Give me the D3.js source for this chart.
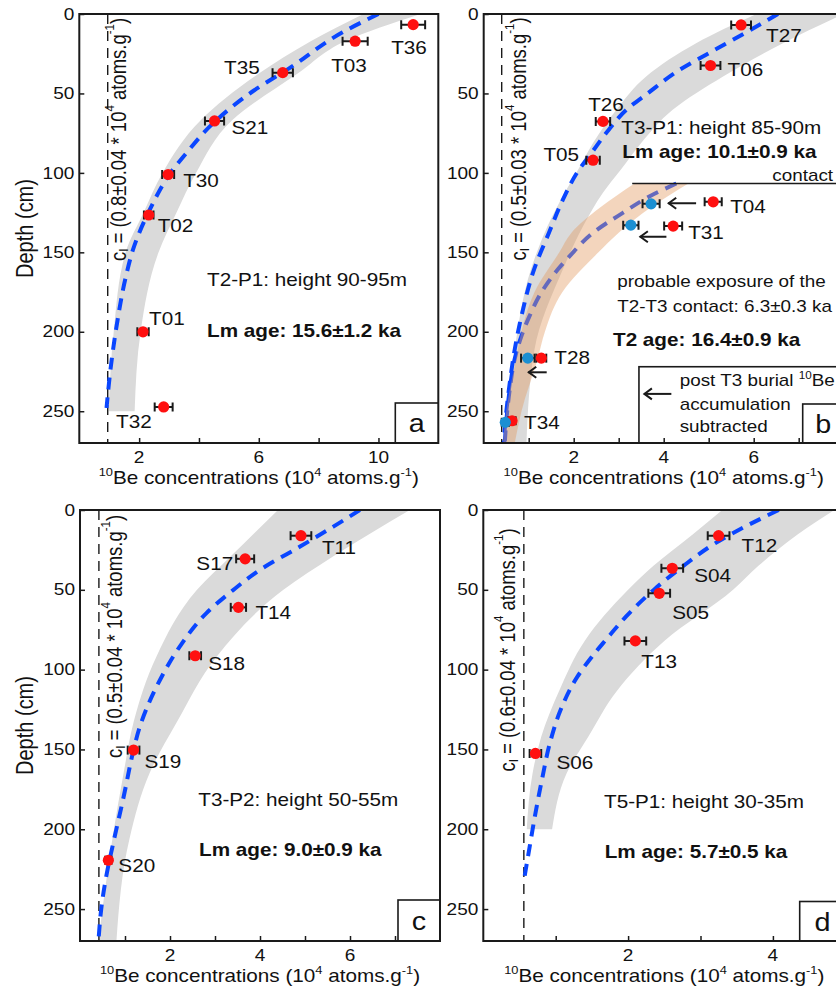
<!DOCTYPE html>
<html><head><meta charset="utf-8">
<script src="https://cdn.jsdelivr.net/npm/d3@7"></script>
<style>
body{margin:0;background:#fff}
svg{display:block}
text{font-family:"Liberation Sans",Arial,Helvetica,sans-serif;fill:#111}
</style>
</head><body>
<svg id="chart" width="836" height="991"></svg>
<script>
// ================= DATA =================
const depthTicks = [0, 50, 100, 150, 200, 250];
const depthMax = 270;
const xMaxima = [12, 8, 8, 5];
const xTickValues = [[2,4,6,8,10],[1,2,3,4,5,6,7],[1,2,3,4,5,6,7],[1,2,3,4]];
const xTickLabels = [[2,6,10],[2,4,6],[2,4,6],[2,4]];
const ciValues = [0.95, 0.4, 0.42, 0.56];
const ciLabels = ["0.8±0.04", "0.5±0.03", "0.5±0.04", "0.6±0.04"];
const panelLetters = ["a", "b", "c", "d"];

// panel a (T2-P1)
const aSamples = ["T36","T03","T35","S21","T30","T02","T01","T32"];
const aDepth   = [6.7, 17.1, 36.9, 67.3, 101, 126.5, 200, 247.3];
const aConc    = [11.16, 9.22, 6.8, 4.52, 2.97, 2.32, 2.13, 2.82];
const aErr     = [0.4, 0.42, 0.34, 0.32, 0.2, 0.16, 0.19, 0.3];
const aFitDepth = [0, 11.5, 34.4, 48, 68.8, 87.5, 100, 123, 148, 165, 196, 221, 248];
const aFitConc  = [10.0, 8.8, 7.0, 5.85, 4.47, 3.58, 3.05, 2.36, 1.8, 1.56, 1.25, 1.06, 0.91];
const aBandDepth = [0, 17, 37.5, 67, 100, 125, 150, 200, 250];
const aBandLow   = [9.5, 7.75, 6.0, 4.05, 2.78, 2.15, 1.55, 1.15, 0.98];
const aBandHigh  = [11.4, 8.9, 7.3, 5.1, 3.9, 3.25, 2.65, 2.05, 1.85];

// panel b (T3-P1)
const bSamples = ["T27","T06","T26","T05","T04","T31","T28","T34"];
const bDepth   = [6.9, 32.4, 67.6, 92, 118.2, 133.5, 216.6, 256];
const bConc    = [5.72, 5.04, 2.65, 2.43, 5.1, 4.21, 1.28, 0.63];
const bErr     = [0.22, 0.22, 0.16, 0.15, 0.19, 0.2, 0.11, 0.08];
const bCorrSamples = ["T04","T31","T28","T34"];
const bCorrDepth   = [119.5, 132.9, 216.6, 257];
const bCorrConc    = [3.72, 3.27, 0.98, 0.48];
const bCorrErr     = [0.19, 0.17, 0.15, 0.08];
const bFitDepth = [0, 12.1, 24.7, 35.2, 49.8, 60.3, 72.8, 89.6, 97.9, 116.8, 137.7, 160.7, 190, 211, 232, 257, 270];
const bFitConc  = [6.54, 5.8, 5.0, 4.35, 3.65, 3.17, 2.78, 2.34, 2.12, 1.76, 1.45, 1.12, 0.84, 0.69, 0.58, 0.48, 0.45];
const bBandDepth = [0, 18.4, 39.3, 60.3, 81.2, 97.9, 112.5, 133.5, 160.7, 211, 270];
const bBandLow   = [6.06, 4.72, 3.61, 2.95, 2.43, 2.1, 1.8, 1.42, 1.05, 0.69, 0.5];
const bBandHigh  = [8.0, 6.65, 5.32, 4.2, 3.5, 3.05, 2.65, 2.21, 1.76, 1.13, 0.95];
const bT2FitDepth = [106.7, 114.7, 125, 137.7, 152.4, 160.7, 175.3, 190, 202.6, 217, 236, 257, 269];
const bT2FitConc  = [4.28, 3.69, 3.1, 2.43, 1.91, 1.65, 1.28, 1.02, 0.84, 0.69, 0.58, 0.5, 0.47];
const bT2BandDepth = [106.7, 122, 137.7, 150, 175, 200, 217, 250, 270];
const bT2BandLow   = [3.35, 2.58, 1.95, 1.68, 1.13, 0.84, 0.72, 0.5, 0.43];
const bT2BandHigh  = [4.55, 3.7, 3.0, 2.55, 1.75, 1.36, 1.2, 0.84, 0.69];
const bContactDepth = 106.7, bContactFrom = 3.3;
// arrows: x from, x to, depth
const bArrowFrom  = [4.72, 4.06, 1.40, 4.17];
const bArrowTo    = [4.10, 3.47, 0.99, 3.56];
const bArrowDepth = [119.1, 140.2, 225.5, 239.1];
const bLegendX = 3.45, bLegendDepth = 222;

// panel c (T3-P2)
const cSamples = ["T11","S17","T14","S18","S19","S20"];
const cDepth   = [16.1, 30.6, 61, 91.3, 150.4, 219.4];
const cConc    = [4.91, 3.67, 3.52, 2.56, 1.19, 0.63];
const cErr     = [0.23, 0.2, 0.17, 0.13, 0.13, 0.07];
const cFitDepth = [0, 10.4, 22.9, 37.5, 50, 64.6, 85.4, 106.3, 123, 137.5, 150.4, 181, 206, 227, 248, 270];
const cFitConc  = [6.22, 5.63, 4.89, 4.0, 3.41, 2.81, 2.22, 1.78, 1.5, 1.31, 1.19, 0.96, 0.76, 0.6, 0.48, 0.41];
const cBandDepth = [0, 29, 50, 91.7, 133, 164.6, 206, 270];
const cBandLow   = [4.4, 3.35, 2.6, 1.7, 1.19, 0.97, 0.72, 0.41];
const cBandHigh  = [7.33, 5.63, 4.52, 3.04, 2.15, 1.55, 1.1, 0.81];

// panel d (T5-P1)
const dSamples = ["T12","S04","S05","T13","S06"];
const dDepth   = [16.1, 36.5, 52.2, 82, 152.5];
const dConc    = [3.25, 2.61, 2.43, 2.1, 0.72];
const dErr     = [0.15, 0.15, 0.15, 0.15, 0.08];
const dFitDepth = [0, 9.4, 20.9, 35.5, 49, 66.8, 81.5, 91.9, 104.4, 125, 146, 169, 190, 211, 229.7];
const dFitConc  = [4.08, 3.66, 3.2, 2.75, 2.38, 1.97, 1.69, 1.5, 1.3, 1.07, 0.92, 0.81, 0.72, 0.64, 0.57];
const dBandDepth = [0, 15, 35, 50, 82, 113, 142, 165, 200];
const dBandLow   = [3.3, 2.9, 2.35, 2.0, 1.4, 1.05, 0.8, 0.68, 0.6];
const dBandHigh  = [4.85, 4.35, 3.8, 3.45, 2.5, 1.85, 1.45, 1.15, 0.95];

// ================= STYLE / LAYOUT =================
const layout = [
  {left: 79.3, top: 14, width: 359, height: 429},
  {left: 483.7, top: 14, width: 360, height: 429},
  {left: 80, top: 510, width: 360, height: 431},
  {left: 483.3, top: 510, width: 362, height: 431}
];
const letterBox = [[43, 40], [41, 39], [42, 41], [45.6, 39.5]];
const ciTextOffset = [10.5, 17, 16, -16];
const ciTextCenter = [125.5, 125, 126.5, 140];
// label placement: [dx, dy, anchor]
const labelPlace = {
  a: {T36:[-22,29,"start"],T03:[-24,31,"start"],T35:[-23,1,"end"],S21:[17,13,"start"],T30:[15,13,"start"],T02:[9,17,"start"],T01:[6,-7,"start"],T32:[-12,21,"end"]},
  b: {T27:[25,17,"start"],T06:[17,11,"start"],T26:[3,-10,"middle"],T05:[-14,1,"end"],T04:[17,11,"start"],T31:[15,13,"start"],T28:[13,6,"start"],T34:[12,8,"start"]},
  c: {T11:[21,18,"start"],S17:[-12,11,"end"],T14:[17,12,"start"],S18:[13,14,"start"],S19:[11,18,"start"],S20:[10,12,"start"]},
  d: {T12:[23,16,"start"],S04:[22,14,"start"],S05:[13,26,"start"],T13:[6,27,"start"],S06:[21,16,"start"]}
};
const GRAY = "#dadada", BLUE = "#0a46ff", RED = "#ff1010", CYAN = "#1b8fd2", INK = "#1a1a1a";
const SX = 1.15, FONT = 18, NOTE = 16.4;

const svg = d3.select("#chart");

function rich(sel, parts, size) {
  let shift = 0;
  parts.forEach(p => {
    const ts = sel.append("tspan").text(p.t);
    const target = p.sup ? -0.42 * size : p.sub ? 0.28 * size : 0;
    if (target !== shift) { ts.attr("dy", target - shift); shift = target; }
    if (p.sup || p.sub) ts.attr("font-size", size * 0.62);
  });
}
function label(g, x, y, content, o = {}) {
  const size = o.size || FONT;
  const sx = o.sx || SX;
  const t = g.append("text")
    .attr("transform", o.rotate
      ? `translate(${x},${y}) rotate(${o.rotate}) scale(1,${sx})`
      : `translate(${x},${y}) scale(${sx},1)`)
    .attr("font-size", size)
    .attr("text-anchor", o.anchor || "start");
  if (o.weight) t.attr("font-weight", o.weight);
  if (o.baseline) t.attr("dominant-baseline", o.baseline);
  if (typeof content === "string") t.text(content); else rich(t, content, size);
  return t;
}
const zip2 = (ds, cs) => ds.map((d, i) => [d, cs[i]]);
const zipBand = (ds, lo, hi) => ds.map((d, i) => ({d, lo: lo[i], hi: hi[i]}));

const panelData = [
  {samples:aSamples, depth:aDepth, conc:aConc, err:aErr,
   fits:[zip2(aFitDepth,aFitConc)], bands:[zipBand(aBandDepth,aBandLow,aBandHigh)],
   texts:[["T2-P1: height 90-95m",127.7,272,false,FONT],["Lm age: 15.6±1.2 ka",127.7,323,true,FONT]]},
  {samples:bSamples, depth:bDepth, conc:bConc, err:bErr,
   fits:[zip2(bFitDepth,bFitConc), zip2(bT2FitDepth,bT2FitConc)], bands:[zipBand(bBandDepth,bBandLow,bBandHigh)],
   texts:[["T3-P1: height 85-90m",137.6,120,false,FONT],["Lm age: 10.1±0.9 ka",138.6,144.3,true,FONT],
          ["contact",288.6,167,false,NOTE],["probable exposure of the",133.6,272.5,false,NOTE],
          ["T2-T3 contact: 6.3±0.3 ka",133.6,297.5,false,NOTE],["T2 age: 16.4±0.9 ka",129.3,331.5,true,FONT]]},
  {samples:cSamples, depth:cDepth, conc:cConc, err:cErr,
   fits:[zip2(cFitDepth,cFitConc)], bands:[zipBand(cBandDepth,cBandLow,cBandHigh)],
   texts:[["T3-P2: height 50-55m",118.3,295.5,false,FONT],["Lm age: 9.0±0.9 ka",119,345.5,true,FONT]]},
  {samples:dSamples, depth:dDepth, conc:dConc, err:dErr,
   fits:[zip2(dFitDepth,dFitConc)], bands:[zipBand(dBandDepth,dBandLow,dBandHigh)],
   texts:[["T5-P1: height 30-35m",120.7,298,false,FONT],["Lm age: 5.7±0.5 ka",121.4,348,true,FONT]]}
];

function errorBar(g, x, y, c, d, e) {
  const yy = y(d);
  g.append("line").attr("x1", x(c - e)).attr("x2", x(c + e)).attr("y1", yy).attr("y2", yy)
    .attr("stroke", INK).attr("stroke-width", 2);
  [c - e, c + e].forEach(v => g.append("line").attr("x1", x(v)).attr("x2", x(v))
    .attr("y1", yy - 4.5).attr("y2", yy + 4.5).attr("stroke", INK).attr("stroke-width", 2));
}
function dot(g, x, y, c, d, color) {
  g.append("circle").attr("cx", x(c)).attr("cy", y(d)).attr("r", 5.6).attr("fill", color);
}
function arrow(g, x1, x2, yy) {
  g.append("line").attr("x1", x1).attr("x2", x2).attr("y1", yy).attr("y2", yy)
    .attr("stroke", INK).attr("stroke-width", 2);
  g.append("path").attr("d", `M${x2 + 8},${yy - 5.5}L${x2 + 0.5},${yy}L${x2 + 8},${yy + 5.5}`)
    .attr("fill", "none").attr("stroke", INK).attr("stroke-width", 2);
}

panelData.forEach((P, i) => {
  const L = layout[i];
  const x = d3.scaleLinear().domain([0, xMaxima[i]]).range([0, L.width]);
  const y = d3.scaleLinear().domain([0, depthMax]).range([0, L.height]);
  const g = svg.append("g").attr("transform", `translate(${L.left},${L.top})`);
  const clipId = "clip" + i;
  g.append("clipPath").attr("id", clipId).append("rect").attr("width", L.width).attr("height", L.height);
  const plot = g.append("g").attr("clip-path", `url(#${clipId})`);

  const area = d3.area().y(p => y(p.d)).x0(p => x(p.lo)).x1(p => x(p.hi)).curve(d3.curveMonotoneY);
  const line = d3.line().y(p => y(p[0])).x(p => x(p[1])).curve(d3.curveMonotoneY);

  P.bands.forEach(b => plot.append("path").attr("d", area(b)).attr("fill", GRAY));
  plot.append("line").attr("x1", x(ciValues[i])).attr("x2", x(ciValues[i]))
    .attr("y1", 0).attr("y2", L.height).attr("stroke", INK).attr("stroke-width", 1.4)
    .attr("stroke-dasharray", "10,7");
  P.fits.forEach(f => plot.append("path").attr("d", line(f)).attr("fill", "none")
    .attr("stroke", BLUE).attr("stroke-width", 4).attr("stroke-dasharray", "12,8"));

  if (i === 1) {
    plot.append("path").attr("d", area(zipBand(bT2BandDepth, bT2BandLow, bT2BandHigh)))
      .attr("fill", "#e39a62").attr("fill-opacity", 0.42);
    plot.append("line").attr("x1", x(bContactFrom)).attr("x2", L.width)
      .attr("y1", y(bContactDepth)).attr("y2", y(bContactDepth)).attr("stroke", INK).attr("stroke-width", 1.6);
    bArrowFrom.slice(0, 3).forEach((v, k) => arrow(plot, x(v), x(bArrowTo[k]), y(bArrowDepth[k])));
    plot.append("rect").attr("x", x(bLegendX)).attr("y", y(bLegendDepth))
      .attr("width", L.width - x(bLegendX) + 2).attr("height", L.height - y(bLegendDepth) + 2)
      .attr("fill", "#fff").attr("stroke", INK).attr("stroke-width", 1.6);
    arrow(plot, x(bArrowFrom[3]), x(bArrowTo[3]), y(bArrowDepth[3]));
    label(plot, 196, 372, [{t:"post T3 burial "},{t:"10",sup:true},{t:"Be"}], {size:NOTE});
    label(plot, 196, 396, "accumulation", {size:NOTE});
    label(plot, 196, 418, "subtracted", {size:NOTE});
  }

  label(plot, x(ciValues[i]) + ciTextOffset[i], ciTextCenter[i],
    [{t:"c"},{t:"I",sub:true},{t:" = (" + ciLabels[i] + " * 10"},{t:"4",sup:true},{t:" atoms.g"},{t:"-1",sup:true},{t:")"}],
    {rotate:-90, anchor:"middle", baseline:"central", size:18.5});

  P.samples.forEach((s, k) => errorBar(plot, x, y, P.conc[k], P.depth[k], P.err[k]));
  if (i === 1) bCorrSamples.forEach((s, k) => errorBar(plot, x, y, bCorrConc[k], bCorrDepth[k], bCorrErr[k]));
  P.samples.forEach((s, k) => dot(plot, x, y, P.conc[k], P.depth[k], RED));
  if (i === 1) bCorrSamples.forEach((s, k) => dot(plot, x, y, bCorrConc[k], bCorrDepth[k], CYAN));

  const place = labelPlace[panelLetters[i]];
  P.samples.forEach((s, k) => {
    const [dx, dy, anc] = place[s];
    label(plot, x(P.conc[k]) + dx, y(P.depth[k]) + dy, s, {anchor: anc});
  });

  P.texts.forEach(([t, tx, ty, bold, size]) => label(plot, tx, ty, t, bold ? {weight:"bold", size} : {size}));

  const [bw, bh] = letterBox[i];
  plot.append("rect").attr("x", L.width - bw).attr("y", L.height - bh).attr("width", bw + 2).attr("height", bh + 2)
    .attr("fill", "#fff").attr("stroke", INK).attr("stroke-width", 1.6);
  label(plot, L.width - bw / 2, L.height - bh / 2 + 1, panelLetters[i], {anchor:"middle", baseline:"central", size:25});

  const xAxis = d3.axisBottom(x).tickValues(xTickValues[i]).tickSize(-5).tickFormat("");
  const yAxis = d3.axisLeft(y).tickValues(depthTicks).tickSize(-5).tickFormat("");
  const gx = g.append("g").attr("transform", `translate(0,${L.height})`).call(xAxis);
  const gy = g.append("g").call(yAxis);
  [gx, gy].forEach(a => { a.select(".domain").remove(); a.selectAll("line").attr("stroke", INK).attr("stroke-width", 1.5); });
  g.append("rect").attr("width", L.width).attr("height", L.height).attr("fill", "none")
    .attr("stroke", INK).attr("stroke-width", 2);

  xTickLabels[i].forEach(v => label(g, x(v), L.height + 20, String(v), {anchor:"middle", size:17, sx:1.12}));
  depthTicks.forEach(v => label(g, -5, y(v), String(v), {anchor:"end", baseline:"central", size:17, sx:1.12}));

  label(g, L.width / 2, L.height + 41,
    [{t:"10",sup:true},{t:"Be concentrations (10"},{t:"4",sup:true},{t:" atoms.g"},{t:"-1",sup:true},{t:")"}],
    {anchor:"middle"});
  if (i % 2 === 0) {
    label(g, 25 - L.left, L.height / 2, "Depth (cm)", {rotate:-90, anchor:"middle", baseline:"central", size:20});
  }
});
</script>
</body></html>
